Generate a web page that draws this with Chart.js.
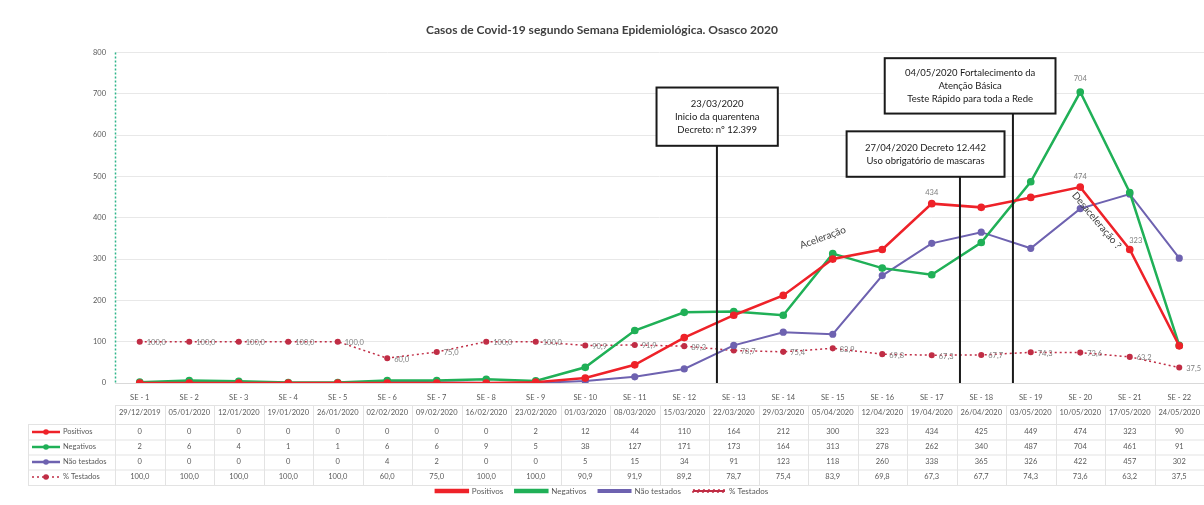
<!DOCTYPE html>
<html>
<head>
<meta charset="utf-8">
<script src="https://cdn.jsdelivr.net/npm/chart.js@4.4.0/dist/chart.umd.min.js"></script>
<style>
  html, body { margin: 0; padding: 0; background: #fff; }
  #wrap { width: 1204px; height: 505px; position: relative; }
</style>
</head>
<body>
<div id="wrap"><canvas id="myChart"></canvas></div>
<script>
const semanas = ['SE - 1','SE - 2','SE - 3','SE - 4','SE - 5','SE - 6','SE - 7','SE - 8','SE - 9','SE - 10','SE - 11',
    'SE - 12','SE - 13','SE - 14','SE - 15','SE - 16','SE - 17','SE - 18','SE - 19','SE - 20','SE - 21','SE - 22'];
const datas = ['29/12/2019','05/01/2020','12/01/2020','19/01/2020','26/01/2020','02/02/2020','09/02/2020','16/02/2020',
    '23/02/2020','01/03/2020','08/03/2020','15/03/2020','22/03/2020','29/03/2020','05/04/2020','12/04/2020',
    '19/04/2020','26/04/2020','03/05/2020','10/05/2020','17/05/2020','24/05/2020'];
const positivos = [0, 0, 0, 0, 0, 0, 0, 0, 2, 12, 44, 110, 164, 212, 300, 323, 434, 425, 449, 474, 323, 90];
const negativos = [2, 6, 4, 1, 1, 6, 6, 9, 5, 38, 127, 171, 173, 164, 313, 278, 262, 340, 487, 704, 461, 91];
const naoTestados = [0, 0, 0, 0, 0, 4, 2, 0, 0, 5, 15, 34, 91, 123, 118, 260, 338, 365, 326, 422, 457, 302];
const pctTestados = [100.0, 100.0, 100.0, 100.0, 100.0, 60.0, 75.0, 100.0, 100.0, 90.9, 91.9, 89.2, 78.7, 75.4,
    83.9, 69.8, 67.3, 67.7, 74.3, 73.6, 63.2, 37.5];

// which points carry a value label
const rotulosPositivos = [16, 19, 20];
const rotulosNegativos = [19];

// annotation boxes (x in category index, y in chart units)
const marcos = [
    {linhas: ['23/03/2020', 'Inicio da quarentena', 'Decreto: nº 12.399'], esq: 10.44, dir: 12.89, topo: 715, base: 574, x: 11.66},
    {linhas: ['27/04/2020 Decreto 12.442', 'Uso obrigatório de mascaras'], esq: 14.28, dir: 17.47, topo: 609, base: 499, x: 16.57},
    {linhas: ['04/05/2020 Fortalecimento da', 'Atenção Básica', 'Teste Rápido para toda a Rede'], esq: 15.05, dir: 18.5, topo: 786, base: 652, x: 17.64}
];

const FONTE = 'Lato, "Open Sans", sans-serif';
const CINZA = '#595959';
const cores = {
    pos: '#ee2229',
    neg: '#20b057',
    nao: '#6e62b0',
    pct: '#c02d45'
};

function virgula(v) {
    return v.toFixed(1).replace('.', ',');
}

const overlay = {
    id: 'overlay',
    beforeDatasetsDraw(chart) {
        // dotted green vertical axis line
        const ctx = chart.ctx;
        const a = chart.chartArea;
        ctx.save();
        ctx.strokeStyle = '#2fb58a';
        ctx.lineWidth = 1.5;
        ctx.setLineDash([2, 2]);
        ctx.beginPath();
        ctx.moveTo(a.left + 0.5, a.top);
        ctx.lineTo(a.left + 0.5, a.bottom);
        ctx.stroke();
        ctx.restore();
    },
    afterDatasetsDraw(chart) {
        const ctx = chart.ctx;
        const x = chart.scales.x;
        const y = chart.scales.y;
        ctx.save();
        ctx.font = '7.5px ' + FONTE;
        ctx.fillStyle = '#7f7f7f';
        ctx.textBaseline = 'middle';

        // % Testados labels
        const mPct = chart.getDatasetMeta(3);
        ctx.textAlign = 'left';
        mPct.data.forEach((p, i) => {
            ctx.fillText(virgula(pctTestados[i]), p.x + 7, p.y + 1);
        });

        ctx.textAlign = 'center';
        const mPos = chart.getDatasetMeta(0);
        rotulosPositivos.forEach(i => {
            const p = mPos.data[i];
            if (i === 20) {
                ctx.fillText(String(positivos[i]), p.x + 6, p.y - 9);
            } else {
                ctx.fillText(String(positivos[i]), p.x, p.y - 11);
            }
        });
        const mNeg = chart.getDatasetMeta(1);
        rotulosNegativos.forEach(i => {
            const p = mNeg.data[i];
            ctx.fillText(String(negativos[i]), p.x, p.y - 13);
        });

        // rotated comments
        ctx.font = '10px ' + FONTE;
        ctx.fillStyle = '#404040';
        ctx.save();
        ctx.translate(x.getPixelForValue(13.8), y.getPixelForValue(352));
        ctx.rotate(-20 * Math.PI / 180);
        ctx.fillText('Aceleração', 0, 0);
        ctx.restore();
        ctx.save();
        ctx.translate(x.getPixelForValue(19.33), y.getPixelForValue(393));
        ctx.rotate(50 * Math.PI / 180);
        ctx.fillText('Desaceleração ?', 0, 0);
        ctx.restore();

        // annotation boxes and lines
        ctx.strokeStyle = '#1a1a1a';
        ctx.lineWidth = 2;
        marcos.forEach(m => {
            const lx = x.getPixelForValue(m.x);
            ctx.beginPath();
            ctx.moveTo(lx, y.getPixelForValue(m.base));
            ctx.lineTo(lx, y.getPixelForValue(0));
            ctx.stroke();
        });
        marcos.forEach(m => {
            const x0 = x.getPixelForValue(m.esq);
            const x1 = x.getPixelForValue(m.dir);
            const y0 = y.getPixelForValue(m.topo);
            const y1 = y.getPixelForValue(m.base);
            ctx.fillStyle = '#fff';
            ctx.fillRect(x0, y0, x1 - x0, y1 - y0);
            ctx.strokeRect(x0, y0, x1 - x0, y1 - y0);
            ctx.fillStyle = '#1a1a1a';
            ctx.font = '9.5px ' + FONTE;
            const meio = (y0 + y1) / 2;
            const n = m.linhas.length;
            m.linhas.forEach((t, k) => {
                ctx.fillText(t, (x0 + x1) / 2, meio + (k - (n - 1) / 2) * 13);
            });
        });
        ctx.restore();
    },
    afterDraw(chart) {
        const ctx = chart.ctx;
        const x = chart.scales.x;
        const passo = x.getPixelForValue(1) - x.getPixelForValue(0);
        const topo = 405;
        const linhasY = [413, 432, 447, 462, 477];
        ctx.save();
        // grid of the table
        ctx.strokeStyle = '#e3e3e3';
        ctx.lineWidth = 1;
        for (let i = 0; i <= semanas.length; i++) {
            const px = Math.round(x.getPixelForValue(i) - passo / 2) + 0.5;
            ctx.beginPath();
            ctx.moveTo(px, topo);
            ctx.lineTo(px, 485);
            ctx.stroke();
        }
        [405, 424, 439.5, 454.5, 469.5, 485].forEach(yy => {
            ctx.beginPath();
            ctx.moveTo(yy === 405 ? x.left : 28, yy + 0.5);
            ctx.lineTo(x.right, yy + 0.5);
            ctx.stroke();
        });
        ctx.beginPath();
        ctx.moveTo(28.5, 424);
        ctx.lineTo(28.5, 485);
        ctx.stroke();

        ctx.font = '7.5px ' + FONTE;
        ctx.fillStyle = CINZA;
        ctx.textAlign = 'center';
        ctx.textBaseline = 'middle';
        const linhas = [datas, positivos, negativos, naoTestados, pctTestados.map(virgula)];
        linhas.forEach((arr, r) => {
            arr.forEach((v, i) => {
                ctx.fillText(String(v), x.getPixelForValue(i), linhasY[r]);
            });
        });

        // row headers with legend keys
        const nomes = ['Positivos', 'Negativos', 'Não testados', '% Testados'];
        const cs = [cores.pos, cores.neg, cores.nao, cores.pct];
        nomes.forEach((nome, r) => {
            const yy = linhasY[r + 1];
            ctx.strokeStyle = cs[r];
            ctx.lineWidth = r === 3 ? 1.5 : 2.5;
            ctx.setLineDash(r === 3 ? [2, 3] : []);
            ctx.beginPath();
            ctx.moveTo(32, yy);
            ctx.lineTo(60, yy);
            ctx.stroke();
            ctx.setLineDash([]);
            ctx.fillStyle = cs[r];
            ctx.beginPath();
            ctx.arc(46, yy, 2.8, 0, Math.PI * 2);
            ctx.fill();
            ctx.fillStyle = CINZA;
            ctx.textAlign = 'left';
            ctx.fillText(nome, 63, yy);
        });
        ctx.restore();
    }
};

function serie(label, data, cor, extra) {
    return Object.assign({
        label: label,
        data: data,
        borderColor: cor,
        backgroundColor: cor,
        pointBackgroundColor: cor,
        pointBorderColor: cor,
        pointRadius: 2.6,
        pointHoverRadius: 2.6,
        borderWidth: 2.5,
        tension: 0,
        fill: false
    }, extra || {});
}

const ctx = document.getElementById('myChart').getContext('2d');
const myChart = new Chart(ctx, {
    type: 'line',
    data: {
        labels: semanas,
        datasets: [
            serie('Positivos', positivos, cores.pos),
            serie('Negativos', negativos, cores.neg),
            serie('Não testados', naoTestados, cores.nao, {borderWidth: 2}),
            serie('% Testados', pctTestados, cores.pct, {borderWidth: 1.5, borderDash: [2, 3], pointRadius: 2.3})
        ]
    },
    options: {
        responsive: true,
        maintainAspectRatio: false,
        animation: false,
        layout: {autoPadding: false, padding: {left: 0, right: 0, top: 0, bottom: 0}},
        plugins: {
            title: {
                display: true,
                text: 'Casos de Covid-19 segundo Semana Epidemiológica. Osasco 2020',
                color: '#404040',
                font: {family: FONTE, size: 12, weight: 'bold'},
                padding: {top: 23, bottom: 15}
            },
            legend: {
                position: 'bottom',
                labels: {
                    color: CINZA,
                    font: {family: FONTE, size: 8},
                    boxWidth: 32,
                    boxHeight: 2,
                    padding: 12
                }
            },
            tooltip: {enabled: false}
        },
        scales: {
            x: {
                offset: true,
                grid: {display: false},
                border: {color: '#d9d9d9'},
                ticks: {color: CINZA, font: {family: FONTE, size: 7.5}, padding: 2, maxRotation: 0, autoSkip: false},
                afterFit: function(s) { s.height = 92; }
            },
            y: {
                min: 0,
                max: 800,
                grid: {color: '#e8e8e8', drawTicks: false},
                border: {display: false},
                ticks: {stepSize: 100, color: CINZA, font: {family: FONTE, size: 7.5}, padding: 9},
                afterFit: function(s) { s.width = 115; }
            }
        }
    },
    plugins: [overlay]
});
</script>
</body>
</html>
